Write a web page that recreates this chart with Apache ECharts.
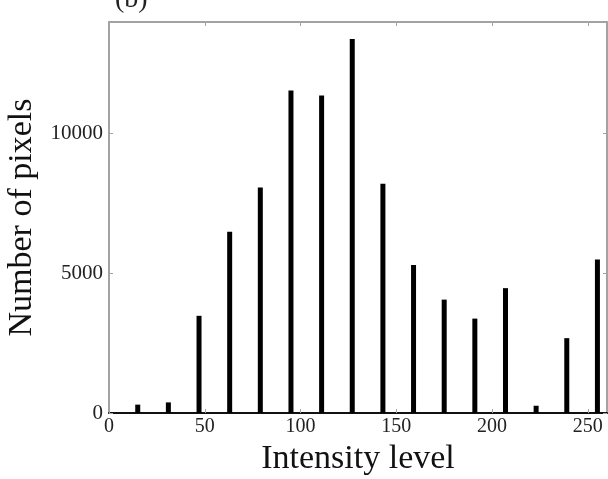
<!DOCTYPE html>
<html>
<head>
<meta charset="utf-8">
<script src="https://cdn.jsdelivr.net/npm/echarts@6/dist/echarts.min.js"></script>
<style>
html,body{margin:0;padding:0;background:#fff;}
#chart{width:608px;height:479px;}
</style>
</head>
<body>
<div id="chart"></div>
<script>
const intensityLevels = [15, 31, 47, 63, 79, 95, 111, 127, 143, 159, 175, 191, 207, 223, 239, 255];
const pixelCounts = [300, 380, 3480, 6490, 8070, 11550, 11370, 13390, 8210, 5300, 4060, 3380, 4470, 260, 2680, 5500];
const xTickLabels = ['0', '50', '100', '150', '200', '250'];
const yTickLabels = ['0', '5000', '10000'];
const panelLabel = '(b)';
const xTitle = 'Intensity level';
const yTitle = 'Number of pixels';

const serif = '"Liberation Serif", "DejaVu Serif", serif';
const frameColor = '#a3a3a3';

const chart = echarts.init(document.getElementById('chart'));
const barData = intensityLevels.map((x, i) => [x, pixelCounts[i]]);

chart.setOption({
  backgroundColor: '#ffffff',
  animation: false,
  grid: { left: 109, top: 22, right: 1, bottom: 66, containLabel: false, outerBoundsMode: 'none' },
  graphic: [{
    type: 'text',
    left: 115, top: -14,
    style: { text: panelLabel, font: '28px ' + serif, fill: '#222' }
  }],
  xAxis: [{
    type: 'value', min: 0, max: 260, interval: 50, position: 'bottom',
    name: xTitle, nameLocation: 'middle', nameGap: 29,
    nameTextStyle: { fontFamily: serif, fontSize: 34, color: '#111' },
    axisLine: { show: true, onZero: false, lineStyle: { color: '#111', width: 2 } },
    axisTick: { show: true, inside: true, length: 4, lineStyle: { color: frameColor } },
    axisLabel: {
      showMaxLabel: false, margin: 4, fontFamily: serif, fontSize: 20, color: '#222',
      formatter: v => xTickLabels.includes(String(v)) ? String(v) : ''
    },
    splitLine: { show: false }
  }, {
    type: 'value', min: 0, max: 260, interval: 50, position: 'top',
    axisLine: { show: true, onZero: false, lineStyle: { color: frameColor, width: 2 } },
    axisTick: { show: true, inside: true, length: 4, lineStyle: { color: frameColor } },
    axisLabel: { show: false }, splitLine: { show: false }
  }],
  yAxis: [{
    type: 'value', min: 0, max: 14000, interval: 5000, position: 'left',
    name: yTitle, nameLocation: 'middle', nameGap: 70, nameRotate: 90,
    nameTextStyle: { fontFamily: serif, fontSize: 34, color: '#111' },
    axisLine: { show: true, onZero: false, lineStyle: { color: frameColor, width: 2 } },
    axisTick: { show: true, inside: true, length: 4, lineStyle: { color: frameColor } },
    axisLabel: {
      showMaxLabel: false, margin: 6, fontFamily: serif, fontSize: 21, color: '#222',
      formatter: v => yTickLabels.includes(String(v)) ? String(v) : ''
    },
    splitLine: { show: false }
  }, {
    type: 'value', min: 0, max: 14000, interval: 5000, position: 'right',
    axisLine: { show: true, onZero: false, lineStyle: { color: frameColor, width: 2 } },
    axisTick: { show: true, inside: true, length: 4, lineStyle: { color: frameColor } },
    axisLabel: { show: false }, splitLine: { show: false }
  }],
  series: [{
    type: 'bar', xAxisIndex: 0, yAxisIndex: 0,
    data: barData, barWidth: 5,
    itemStyle: { color: '#000' }
  }]
});
</script>
</body>
</html>
